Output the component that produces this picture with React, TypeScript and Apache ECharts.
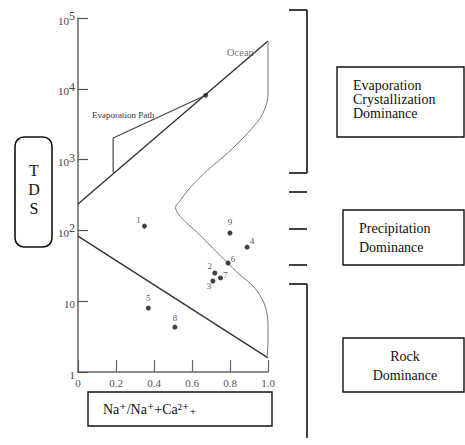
import React, { useEffect, useRef } from "react";
import * as echarts from "echarts";

// Sample data (Na/(Na+Ca) ratio vs TDS)
const sampleIds = ["1", "2", "3", "4", "5", "6", "7", "8", "9"];
const sampleRatio = [0.35, 0.72, 0.71, 0.89, 0.37, 0.79, 0.75, 0.51, 0.8];
const sampleTDS = [115, 25, 19.3, 58, 8, 34.6, 21.3, 4.3, 92];
const labelOffsets = [[-6, -6], [-5, -7], [-4, 5], [5, -6], [0, -10], [5, -4], [5, -3], [0, -9], [0, -11]];

// Gibbs boundaries
const upperLine = [[0, 236], [1.0, 47300]];
const lowerLine = [[0, 83], [1.0, 1.58]];
const rightCurveX = [1.0, 1.0, 1.0, 0.995, 0.963, 0.894, 0.788, 0.683, 0.593, 0.54, 0.513, 0.54, 0.63, 0.735, 0.841, 0.926, 0.979, 1.0, 1.0, 0.995];
const rightCurveY = [47300, 33000, 9000, 6500, 4000, 2380, 1240, 713, 410, 268, 210, 155, 92, 48, 25, 15.9, 9.4, 4.9, 2.83, 1.58];
const evapPathX = [0.185, 0.185, 0.672];
const evapPathY = [650, 2020, 8100];

const xTicks = ["0", "0.2", "0.4", "0.6", "0.8", "1.0"];
const serif = "'Liberation Serif', 'DejaVu Serif', serif";

export default function App() {
  const ref = useRef<HTMLDivElement>(null);
  useEffect(() => {
    const chart = echarts.init(ref.current!, null, { renderer: "svg" });
    const line = (x1: number, y1: number, x2: number, y2: number) => ({
      type: "line",
      shape: { x1, y1, x2, y2 },
      style: { stroke: "#111", lineWidth: 1.6 },
    });
    const txt = (x: number, y: number, text: string, size: number, align = "left", lh = 14) => ({
      type: "text",
      x,
      y,
      style: { text, fontFamily: serif, fontSize: size, fill: "#111", align, verticalAlign: "middle", lineHeight: lh },
    });
    chart.setOption({
      animation: false,
      backgroundColor: "#fff",
      grid: { left: 78, right: 197, top: 18, bottom: 73, containLabel: false },
      xAxis: {
        type: "value",
        min: 0,
        max: 1,
        interval: 0.2,
        axisLine: { show: true, lineStyle: { color: "#666", width: 1.5 } },
        axisTick: { show: true, inside: true, length: 12, lineStyle: { color: "#666", width: 1.2 } },
        splitLine: { show: false },
        axisLabel: {
          margin: 5,
          color: "#555",
          fontFamily: serif,
          fontSize: 11,
          formatter: (v: number) => xTicks[Math.round(v / 0.2)] ?? "",
        },
      },
      yAxis: {
        type: "log",
        logBase: 10,
        min: 1,
        max: 100000,
        axisLine: { show: true, lineStyle: { color: "#666", width: 1.5 } },
        axisTick: { show: true, inside: true, length: 10, lineStyle: { color: "#555", width: 1.2 } },
        splitLine: { show: false },
        axisLabel: {
          margin: 3,
          color: "#444",
          fontFamily: serif,
          fontSize: 11,
          formatter: (v: number) => {
            const e = Math.round(Math.log10(v));
            if (e === 0) return "{b|1}";
            if (e === 1) return "{b|10}";
            return `{b|10}{s|${e}}`;
          },
          rich: {
            b: { fontFamily: serif, fontSize: 11, color: "#444", lineHeight: 16, verticalAlign: "bottom" },
            s: { fontFamily: serif, fontSize: 12, color: "#444", lineHeight: 12, verticalAlign: "top" },
          },
        },
      },
      series: [
        {
          type: "line",
          data: upperLine,
          symbol: "none",
          lineStyle: { color: "#333", width: 1.4 },
          z: 3,
        },
        {
          type: "line",
          data: lowerLine,
          symbol: "none",
          lineStyle: { color: "#333", width: 1.4 },
          z: 3,
        },
        {
          type: "line",
          data: rightCurveX.map((x, i) => [x, rightCurveY[i]]),
          symbol: "none",
          smooth: 0.3,
          lineStyle: { color: "#777", width: 1 },
          z: 3,
        },
        {
          type: "line",
          data: evapPathX.map((x, i) => [x, evapPathY[i]]),
          symbol: "none",
          lineStyle: { color: "#444", width: 1.2 },
          z: 3,
        },
        {
          type: "scatter",
          data: [[evapPathX[2], evapPathY[2]]],
          symbol: "circle",
          symbolSize: 5,
          itemStyle: { color: "#222" },
          z: 4,
        },
        {
          type: "scatter",
          symbol: "circle",
          symbolSize: 5,
          itemStyle: { color: "#111" },
          z: 5,
          label: {
            show: true,
            position: "inside",
            formatter: "{b}",
            fontFamily: serif,
            fontSize: 9,
            color: "#222",
          },
          data: sampleIds.map((id, i) => ({
            name: id,
            value: [sampleRatio[i], sampleTDS[i]],
            label: { offset: labelOffsets[i] },
          })),
        },
      ],
      graphic: [
        // TDS box
        {
          type: "rect",
          shape: { x: 15, y: 137, width: 37, height: 110, r: 9 },
          style: { fill: "none", stroke: "#111", lineWidth: 1.6 },
        },
        txt(34, 170, "T", 16, "center"),
        txt(34, 189, "D", 16, "center"),
        txt(34, 208, "S", 16, "center"),
        // chart annotations
        {
          type: "text",
          x: 92,
          y: 115,
          style: { text: "Evaporation Path", fontFamily: serif, fontSize: 9, fill: "#333", verticalAlign: "middle" },
        },
        {
          type: "text",
          x: 227,
          y: 52,
          style: { text: "Ocean", fontFamily: serif, fontSize: 10.5, fill: "#777", verticalAlign: "middle" },
        },
        // brackets and dashes
        line(289, 10, 307, 10),
        line(307, 10, 307, 173),
        line(289, 173, 307, 173),
        line(289, 192, 307, 192),
        line(289, 229, 307, 229),
        line(289, 265, 307, 265),
        line(289, 284, 307, 284),
        line(307, 284, 307, 438),
        // Evaporation box
        {
          type: "rect",
          shape: { x: 337, y: 67, width: 127, height: 70 },
          style: { fill: "none", stroke: "#111", lineWidth: 1.4 },
        },
        txt(353, 85, "Evaporation", 14),
        txt(353, 99, "Crystallization", 14),
        txt(353, 113, "Dominance", 14),
        // Precipitation box
        {
          type: "rect",
          shape: { x: 343, y: 210, width: 121, height: 55 },
          style: { fill: "none", stroke: "#111", lineWidth: 1.4 },
        },
        txt(359, 228, "Precipitation", 14),
        txt(359, 247, "Dominance", 14),
        // Rock box
        {
          type: "rect",
          shape: { x: 343, y: 338, width: 121, height: 54 },
          style: { fill: "none", stroke: "#111", lineWidth: 1.4 },
        },
        txt(405, 356, "Rock", 14, "center"),
        txt(405, 375, "Dominance", 14, "center"),
        // x-axis name box
        {
          type: "rect",
          shape: { x: 88, y: 392, width: 184, height: 34 },
          style: { fill: "none", stroke: "#111", lineWidth: 1.4 },
        },
        txt(103, 409, "Na\u207A/Na\u207A+Ca\u00B2\u207A\u208A", 14),
      ],
    });
    return () => chart.dispose();
  }, []);
  return <div ref={ref} style={{ position: "absolute", left: 0, top: 0, width: 465, height: 445 }} />;
}
